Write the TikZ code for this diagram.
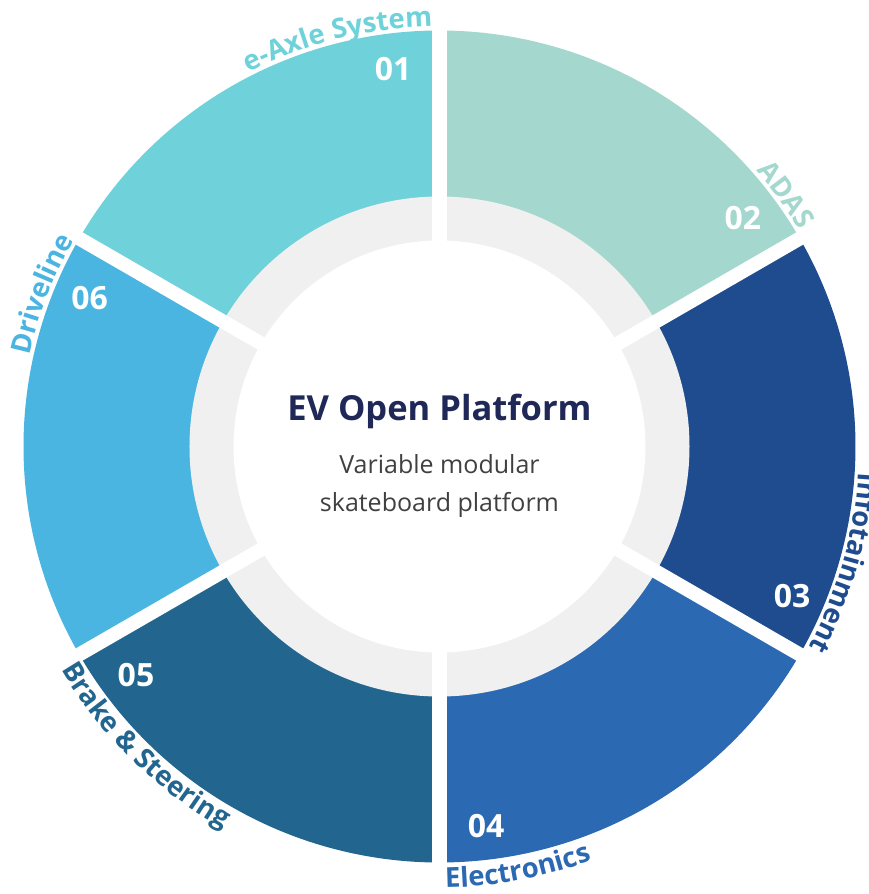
\documentclass[tikz,border=0pt]{standalone}
\usepackage{fontspec}
\setmainfont{Open Sans}
\usetikzlibrary{decorations.text}

\definecolor{axle}{HTML}{6FD2DA}
\definecolor{adas}{HTML}{A4D8CE}
\definecolor{info}{HTML}{1F4C8F}
\definecolor{elec}{HTML}{2B69B3}
\definecolor{brake}{HTML}{22668F}
\definecolor{drive}{HTML}{4AB5E1}
\definecolor{ring}{HTML}{F0F0F0}
\definecolor{navy}{HTML}{1F2856}
\definecolor{subgray}{HTML}{404040}

\newcommand\lblfont{\bfseries\fontsize{27.5}{27.5}\selectfont}

\tikzset{
  num/.style={text=white,font=\bfseries\fontsize{32}{32}\selectfont},
  arclabel/.style n args={2}{decorate,decoration={text along path,text align=center,
    text={|\lblfont\color{#1}|#2}}}
}

\begin{document}
\begin{tikzpicture}[x=1pt,y=1pt,line cap=round,line join=round]
        \useasboundingbox (-439.5,-447.5) rectangle (429.5,446.5);
        % six sectors, then the grey ring and the white hub
        \foreach \a/\c in {90/axle,30/adas,-30/info,-90/elec,-150/brake,150/drive}
          \fill[\c] (0,0) -- (\a:416) arc[start angle=\a,delta angle=60,radius=416] -- cycle;
        \fill[ring] (0,0) circle[radius=250];
        \fill[white] (0,0) circle[radius=206];
        \foreach \a in {90,30,-30,-90,-150,150}
          \draw[white,line width=14pt,line cap=butt] (0,0) -- (\a:440);

        \node[num] (n01) at (97:380) {01};
        \node[num] (n02) at (37:380) {02};
        \node[num] (n03) at (-23:383) {03};
        \node[num] (n04) at (-83:382) {04};
        \node[num] (n05) at (-143:380) {05};
        \node[num] (n06) at (157:380) {06};

        \path[arclabel={axle}{e-Axle System}] (124:420) arc[start angle=124,end angle=84,radius=420];
        \path[arclabel={adas}{ADAS}] (56:420) arc[start angle=56,end angle=16,radius=420];
        \path[arclabel={info}{Infotainment}] (14:420) arc[start angle=14,end angle=-46,radius=420];
        \path[arclabel={elec}{Electronics}] (-105:441) arc[start angle=-105,end angle=-54,radius=441];
        \path[arclabel={brake}{Brake {\&} Steering}] (-165:439) arc[start angle=-165,end angle=-104,radius=439];
        \path[arclabel={drive}{Driveline}] (184:420) arc[start angle=184,end angle=134,radius=420];

        \node[text=navy,font=\bfseries\fontsize{34.5}{34.5}\selectfont] (title) at (0,35.5) {EV Open Platform};
        \node[text=subgray,font=\fontsize{25}{38}\selectfont,align=center] (subtitle) at (0,-39.5)
          {Variable modular\\skateboard platform};
      \end{tikzpicture}
\end{document}
